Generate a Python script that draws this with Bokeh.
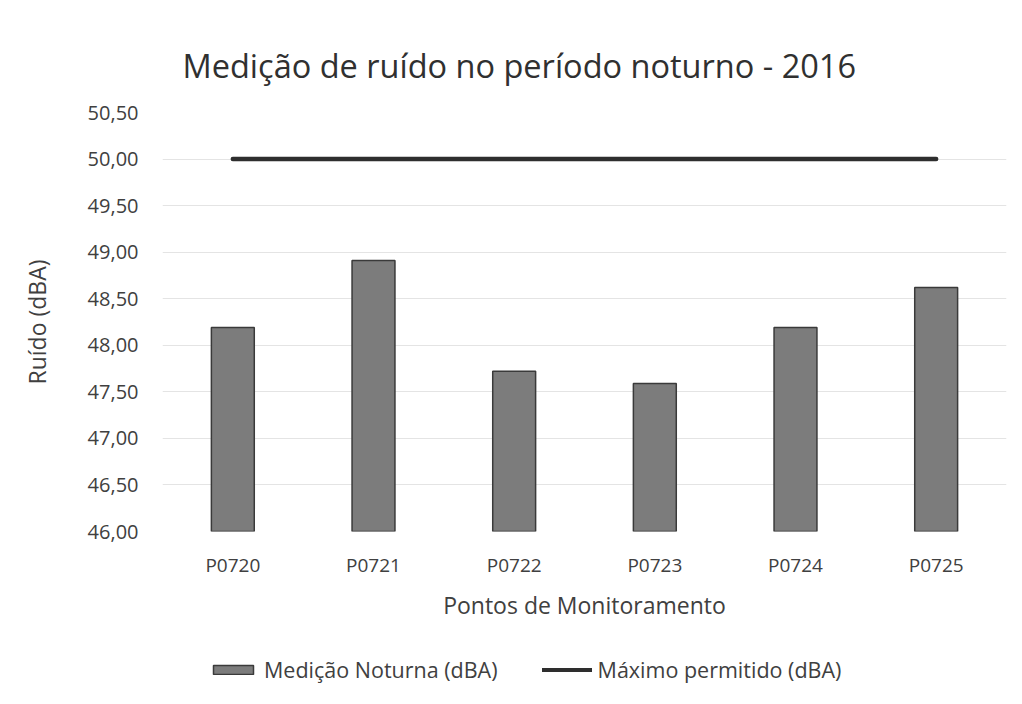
from bokeh.plotting import figure
from bokeh.models import Legend, LegendItem, FixedTicker, Range1d, ColumnDataSource
from bokeh.layouts import column
from bokeh.embed import file_html
from bokeh.resources import INLINE

categories = ["P0720", "P0721", "P0722", "P0723", "P0724", "P0725"]
medicao = [48.19, 48.91, 47.72, 47.59, 48.19, 48.62]
maximo = [50.00, 50.00, 50.00, 50.00, 50.00, 50.00]
y_ticks = [46.0, 46.5, 47.0, 47.5, 48.0, 48.5, 49.0, 49.5, 50.0, 50.5]
y_tick_labels = ["46,00", "46,50", "47,00", "47,50", "48,00", "48,50", "49,00", "49,50", "50,00", "50,50"]
legend_labels = ["Medição Noturna (dBA)", "Máximo permitido (dBA)"]

FONT = "Open Sans"
TXT = "#404040"
BAR_FILL = "#7c7c7c"
BAR_LINE = "#3a3a3a"
LINE_COL = "#2e2e2e"

src = ColumnDataSource(dict(cat=categories, med=medicao, maxp=maximo))

p = figure(
    x_range=categories,
    y_range=Range1d(y_ticks[0], y_ticks[-1]),
    width=1014, height=640,
    min_border_left=162, min_border_right=8,
    min_border_top=112, min_border_bottom=109,
    output_backend="svg", toolbar_location=None,
)
p.title.text = "Medição de ruído no período noturno - 2016"
p.title.text_font = FONT
p.title.text_font_size = "32.5px"
p.title.text_font_style = "normal"
p.title.text_color = "#303030"
p.title.align = "left"
p.title.offset = 20
p.title.standoff = 49

bars = p.vbar(x="cat", top="med", bottom=y_ticks[0], width=0.305, source=src,
              fill_color=BAR_FILL, line_color=BAR_LINE, line_width=1.5)
line = p.line(x="cat", y="maxp", source=src, line_width=4.5, line_color=LINE_COL, line_cap="round")

p.outline_line_color = None
p.xgrid.grid_line_color = None
p.ygrid.grid_line_color = "#e4e4e4"
p.ygrid.grid_line_width = 1

p.yaxis.ticker = FixedTicker(ticks=y_ticks)
p.yaxis.major_label_overrides = {t: l for t, l in zip(y_ticks, y_tick_labels)}
p.yaxis.axis_line_color = None
p.yaxis.major_tick_line_color = None
p.yaxis.minor_tick_line_color = None
p.yaxis.axis_label = "Ruído (dBA)"
p.yaxis.major_label_standoff = 18
p.yaxis.axis_label_standoff = 32

p.xaxis.axis_line_color = None
p.xaxis.major_tick_line_color = None
p.xaxis.axis_label = "Pontos de Monitoramento"
p.xaxis.major_label_standoff = 14
p.xaxis.axis_label_standoff = 8

for ax in (p.xaxis[0], p.yaxis[0]):
    ax.major_label_text_font = FONT
    ax.major_label_text_color = TXT
    ax.axis_label_text_font = FONT
    ax.axis_label_text_font_size = "23px"
    ax.axis_label_text_font_style = "normal"
    ax.axis_label_text_color = TXT
p.xaxis.major_label_text_font_size = "19px"
p.yaxis.major_label_text_font_size = "20px"

# legend strip below the chart: legend-only copies of the two renderers (hidden)
q = figure(width=1014, height=64, x_range=p.x_range, y_range=Range1d(0, 1),
           x_axis_type=None, y_axis_type=None, min_border=0,
           output_backend="svg", toolbar_location=None)
q.outline_line_color = None
q.grid.grid_line_color = None
lb = q.vbar(x="cat", top="med", bottom=y_ticks[0], width=0.305, source=src,
            fill_color=BAR_FILL, line_color=BAR_LINE, line_width=1.5, visible=False)
ll = q.line(x="cat", y="maxp", source=src, line_width=4, line_color=LINE_COL,
            line_cap="round", visible=False)
legend = Legend(
    items=[LegendItem(label=legend_labels[0], renderers=[lb]),
           LegendItem(label=legend_labels[1], renderers=[ll])],
    orientation="horizontal", location=(46, 20),
    label_text_font=FONT, label_text_font_size="21.5px", label_text_color=TXT,
    glyph_width=50, glyph_height=11, spacing=44, border_line_color=None,
    background_fill_alpha=0, margin=0, padding=0, label_standoff=6,
    inactive_fill_alpha=0,
)
q.add_layout(legend)

open("out.html", "w").write(file_html(column(p, q, spacing=0), INLINE))
